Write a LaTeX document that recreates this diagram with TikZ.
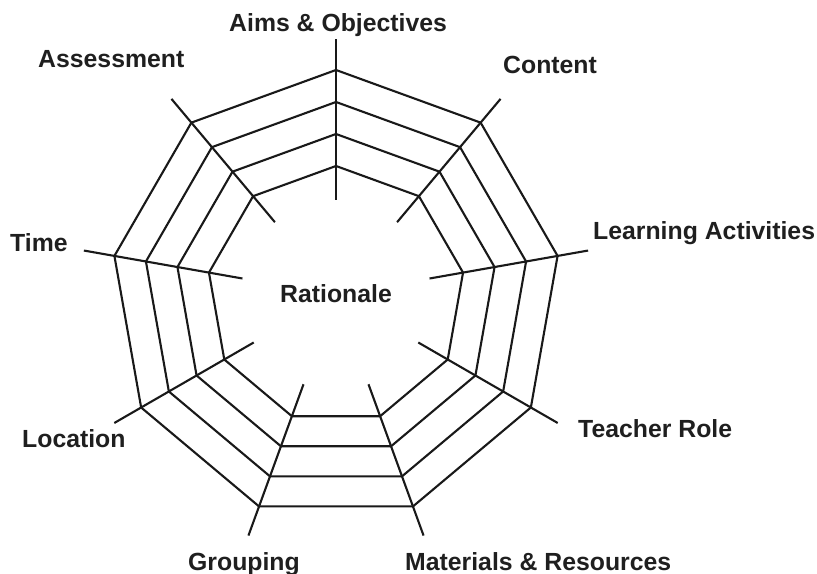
\documentclass[tikz,border=0pt]{standalone}
\usepackage{fontspec}
\setmainfont{Liberation Sans}
\begin{document}
\begin{tikzpicture}[x=1bp,y=1bp,
  web/.style={line width=2.1bp, line join=miter, black!90},
  lab/.style={font=\fontsize{24.8bp}{30bp}\selectfont\bfseries, text=black!88, inner sep=0pt, anchor=base west}]
\useasboundingbox (0,0) rectangle (817,574);
\coordinate (c) at (336,279);
\begin{scope}[shift={(c)}]
  \foreach \r [count=\k] in {225,193,161,129} {
    \draw[web] (90:\r) -- (130:\r) -- (170:\r) -- (210:\r) -- (250:\r)
      -- (290:\r) -- (330:\r) -- (370:\r) -- (410:\r) -- cycle;
  }
  \foreach \a [count=\k] in {90,130,170,210,250,290,330,370,410} {
    \coordinate (in\k) at (\a:95);
    \coordinate (out\k) at (\a:256);
    \draw[web] (in\k) -- (out\k);
  }
\end{scope}
\node[lab] (aims) at (229,542) {Aims \& Objectives};
\node[lab] (content) at (503,500) {Content};
\node[lab] (learn) at (593,334) {Learning Activities};
\node[lab] (teacher) at (578,136) {Teacher Role};
\node[lab] (mat) at (405,3) {Materials \& Resources};
\node[lab] (group) at (188,3) {Grouping};
\node[lab] (loc) at (22,126) {Location};
\node[lab] (time) at (10,322) {Time};
\node[lab] (assess) at (38,506) {Assessment};
\node[lab] (rat) at (280,271) {Rationale};
\end{tikzpicture}
\end{document}
